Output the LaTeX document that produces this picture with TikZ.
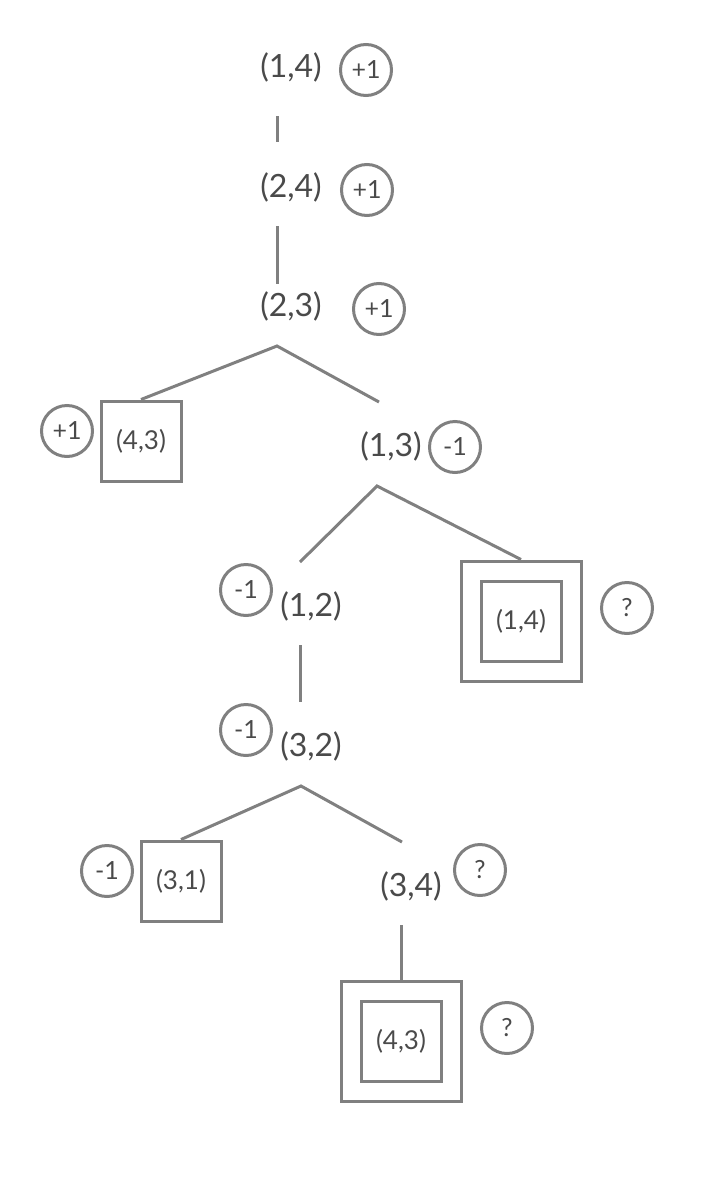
\documentclass[tikz,border=0pt]{standalone}
\usepackage{fontspec}
\setmainfont{Lato}
\definecolor{edge}{HTML}{808080}
\definecolor{ink}{HTML}{4A4A4A}
\tikzset{
  state/.style={text=ink, inner sep=0pt, font=\fontsize{32}{36}\selectfont},
  val/.style={circle, draw=edge, line width=3pt, minimum size=51pt, inner sep=0pt,
              text=ink, font=\fontsize{25}{28}\selectfont},
  leaf/.style={draw=edge, line width=3pt, minimum width=80pt, minimum height=80pt,
               inner sep=0pt, text=ink, font=\fontsize{26}{29}\selectfont},
  outerbox/.style={draw=edge, line width=3pt, minimum width=120pt, minimum height=120pt, inner sep=0pt},
  link/.style={draw=edge, line width=3pt}
}
\newcommand{\lowered}[1]{\raisebox{-4pt}{#1}}
\begin{document}
\begin{tikzpicture}[x=1pt, y=-1pt]
\useasboundingbox (0,0) rectangle (720,1194);

% main line of play
\node[state] (s14) at (291,67) {(1,4)};
\node[val] (v14) at (366,70) {+1};
\node[state] (s24) at (291,187) {(2,4)};
\node[val] (v24) at (367,190) {+1};
\node[state] (s23) at (291,306) {(2,3)};
\node[val] (v23) at (379,309) {+1};

% first branch
\node[leaf] (l43) at (141,441) {\lowered{(4,3)}};
\node[val] (vl43) at (67,431) {+1};
\node[state] (s13) at (391,446) {(1,3)};
\node[val] (v13) at (455,447) {-1};

% second branch
\node[state] (s12) at (311,606) {(1,2)};
\node[val] (v12) at (246,590) {-1};
\node[outerbox] (o14) at (521,621) {};
\node[leaf] (l14) at (521,621) {\lowered{(1,4)}};
\node[val] (vl14) at (627,608) {?};

\node[state] (s32) at (311,746) {(3,2)};
\node[val] (v32) at (246,730) {-1};

% third branch
\node[leaf] (l31) at (181,881) {\lowered{(3,1)}};
\node[val] (vl31) at (107,871) {-1};
\node[state] (s34) at (411,886) {(3,4)};
\node[val] (v34) at (480,870) {?};
\node[outerbox] (o43) at (401,1041) {};
\node[leaf] (l43b) at (401,1041) {\lowered{(4,3)}};
\node[val] (vl43b) at (507,1028) {?};

% connector end points
\coordinate (a1) at (277,116);
\coordinate (a2) at (277,142);
\coordinate (b1) at (277,226);
\coordinate (b2) at (277,284);
\coordinate (c0) at (277,346);
\coordinate (c2) at (379,402);
\coordinate (d0) at (377,486);
\coordinate (d1) at (300,562);
\coordinate (e1) at (300,645);
\coordinate (e2) at (300,702);
\coordinate (f0) at (301,786);
\coordinate (f2) at (402,842);
\coordinate (g1) at (401,925);

% connectors
\draw[link] (a1) -- (a2);
\draw[link] (b1) -- (b2);
\draw[link] (l43.north) -- (c0) -- (c2);
\draw[link] (d1) -- (d0) -- (o14.north);
\draw[link] (e1) -- (e2);
\draw[link] (l31.north) -- (f0) -- (f2);
\draw[link] (g1) -- (o43.north);
\end{tikzpicture}
\end{document}
